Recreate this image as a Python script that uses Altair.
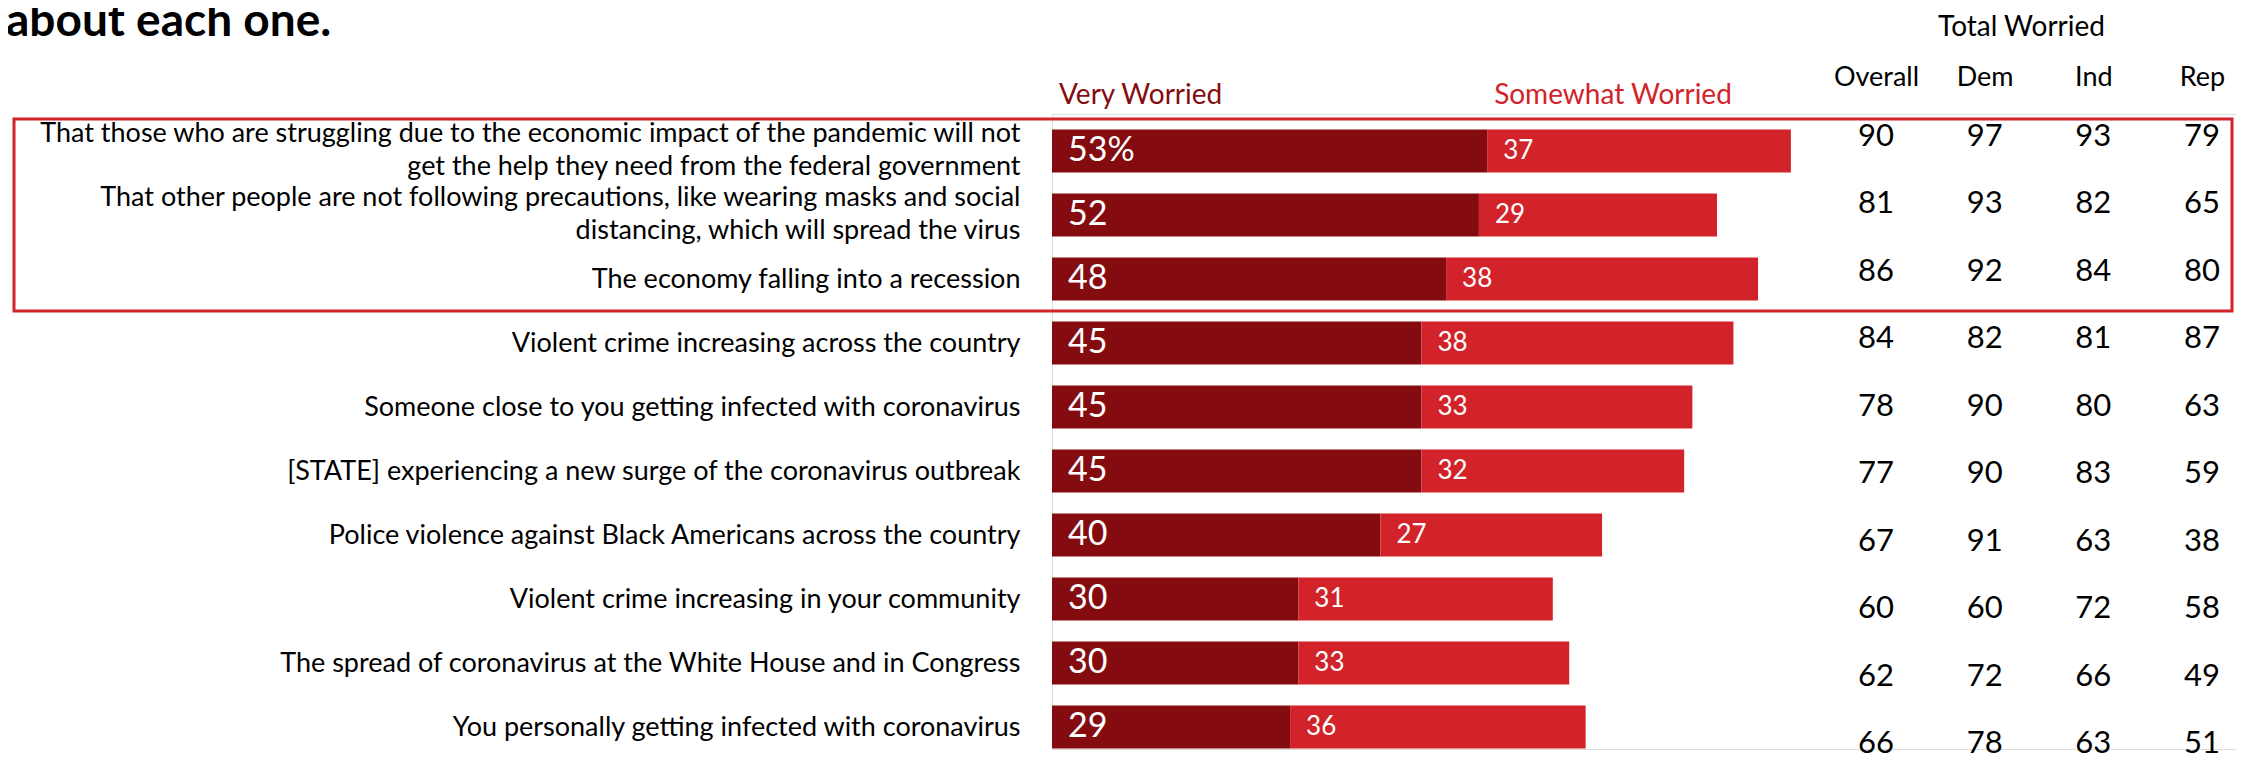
import json
import altair as alt
import pandas as pd

# ---------------- data ----------------
items = [
    "That those who are struggling due to the economic impact of the pandemic will not\nget the help they need from the federal government",
    "That other people are not following precautions, like wearing masks and social\ndistancing, which will spread the virus",
    "The economy falling into a recession",
    "Violent crime increasing across the country",
    "Someone close to you getting infected with coronavirus",
    "[STATE] experiencing a new surge of the coronavirus outbreak",
    "Police violence against Black Americans across the country",
    "Violent crime increasing in your community",
    "The spread of coronavirus at the White House and in Congress",
    "You personally getting infected with coronavirus",
]
very = [53, 52, 48, 45, 45, 45, 40, 30, 30, 29]
somewhat = [37, 29, 38, 38, 33, 32, 27, 31, 33, 36]
overall = [90, 81, 86, 84, 78, 77, 67, 60, 62, 66]
dem = [97, 93, 92, 82, 90, 90, 91, 60, 72, 78]
ind = [93, 82, 84, 81, 80, 83, 63, 72, 66, 63]
rep = [79, 65, 80, 87, 63, 59, 38, 58, 49, 51]
highlighted = [0, 1, 2]
segment_names = ["Very Worried", "Somewhat Worried"]
table_cols = ["Overall", "Dem", "Ind", "Rep"]
table_title = "Total Worried"
chart_title = "about each one."

# ---------------- styling / layout ----------------
DARK = "#840C10"
BRIGHT = "#D2232A"
DARK_TXT = "#8C0F14"
BRIGHT_TXT = "#C9141C"
FONT = "Lato"

n = len(items)
PAD_L, PAD_T = 1044, 106
W, H = 1184, 635
ROW = 65
BAR_H = 43
PX_PER_UNIT = 8.21
LINE_H = 33

# ---------------- tables ----------------
seg_rows = []
for i in range(n):
    start = 0
    for name, vals in zip(segment_names, [very, somewhat]):
        v = vals[i]
        if name == segment_names[0] and i == 0:
            txt = f"{v}%"
        else:
            txt = str(v)
        seg_rows.append({"idx": i, "kind": name, "x0": start, "x1": start + v, "txt": txt})
        start += v
seg = pd.DataFrame(seg_rows)

tab_rows = []
for i in range(n):
    for c, vals in zip(table_cols, [overall, dem, ind, rep]):
        tab_rows.append({"idx": i, "col": c, "val": vals[i]})
tab = pd.DataFrame(tab_rows)

box = pd.DataFrame({"y0": [min(highlighted) - 0.5], "y1": [max(highlighted) + 0.5]})

label_lines = json.dumps([s.split("\n") for s in items])

xs = alt.Scale(domain=[0, 100], range=[0, 100 * PX_PER_UNIT])
ys = alt.Scale(domain=[-0.5, n - 0.5], range=[0, n * ROW], nice=False, zero=False)
color = alt.Scale(domain=segment_names, range=[DARK, BRIGHT])

y_axis = alt.Axis(
    values=list(range(n)), labelExpr=f"{label_lines}[datum.value]",
    domain=False, ticks=False, grid=False, title=None,
    labelFontSize=27, labelFont=FONT, labelColor="black", labelPadding=32,
    labelLimit=0, labelLineHeight=LINE_H, labelOverlap=False, labelFlush=False,
    labelAlign="right", labelBaseline="middle",
    labelOffset={"condition": {"test": f"length({label_lines}[datum.value]) > 1", "value": -LINE_H / 2 - 1.5},
                 "value": 0},
)

base = alt.Chart(seg)

bars = base.mark_bar(orient="horizontal", size=BAR_H).encode(
    x=alt.X("x0:Q", scale=xs, axis=None),
    x2="x1:Q",
    y=alt.Y("idx:Q", scale=ys, axis=y_axis),
    color=alt.Color("kind:N", scale=color, legend=None),
)

very_txt = base.transform_filter(alt.datum.kind == segment_names[0]).mark_text(
    align="left", baseline="middle", dx=16, fontSize=34, font=FONT, color="white"
).encode(x=alt.X("x0:Q", scale=xs), y=alt.Y("idx:Q", scale=ys), text="txt:N")

some_txt = base.transform_filter(alt.datum.kind == segment_names[1]).mark_text(
    align="left", baseline="middle", dx=16, fontSize=26, font=FONT, color="white"
).encode(x=alt.X("x0:Q", scale=xs), y=alt.Y("idx:Q", scale=ys), text="txt:N")

legend_txt = base.transform_filter(alt.datum.idx == 0).mark_text(
    align="left", baseline="alphabetic", dx=7, dy=-47, fontSize=28, font=FONT
).encode(
    x=alt.X("x0:Q", scale=xs), y=alt.Y("idx:Q", scale=ys), text="kind:N",
    color=alt.Color("kind:N", scale=alt.Scale(domain=segment_names, range=[DARK_TXT, BRIGHT_TXT]), legend=None),
)

box_mark = alt.Chart(box).mark_rect(filled=False, stroke=BRIGHT, strokeWidth=3).encode(
    x=alt.value(-(PAD_L - 6)), x2=alt.value(W - 4),
    y=alt.Y("y0:Q", scale=ys), y2="y1:Q",
)

left = alt.layer(box_mark, bars, very_txt, some_txt, legend_txt)

table = alt.Chart(tab).mark_text(fontSize=31, font=FONT, color="black", baseline="middle").encode(
    x=alt.X("col:N", sort=table_cols,
            scale=alt.Scale(type="point", domain=table_cols, range=[1876 - 1052, 2202 - 1052], padding=0),
            axis=alt.Axis(orient="top", domain=False, ticks=False, tickSize=0, grid=False, labelAngle=0,
                          labelFontSize=27, labelFont=FONT, labelColor="black", labelPadding=29,
                          labelBaseline="alphabetic", title=table_title, titleFontSize=28, titleFont=FONT,
                          titleFontWeight="normal", titleColor="black", titlePadding=28,
                          titleBaseline="alphabetic", titleX=2021 - 1052, titleAlign="center")),
    y=alt.Y("idx:Q", scale=alt.Scale(domain=[0, n - 1], range=[23, 630], nice=False, zero=False), axis=None),
    text="val:Q",
)

chart = alt.layer(left, table).resolve_scale(x="independent", y="independent").properties(
    width=W, height=H,
    autosize=alt.AutoSizeParams(type="none"),
    padding={"left": PAD_L, "top": PAD_T, "right": 0, "bottom": 10},
    title=alt.TitleParams(chart_title, anchor="start", frame="group", fontSize=46, font=FONT,
                          fontWeight="bold", color="black", baseline="alphabetic",
                          dx=-PAD_L - 2, offset=0, dy=69),
).configure_view(stroke=None).configure(font=FONT)

chart.save("out.html", embed_options={"renderer": "svg", "actions": False})
